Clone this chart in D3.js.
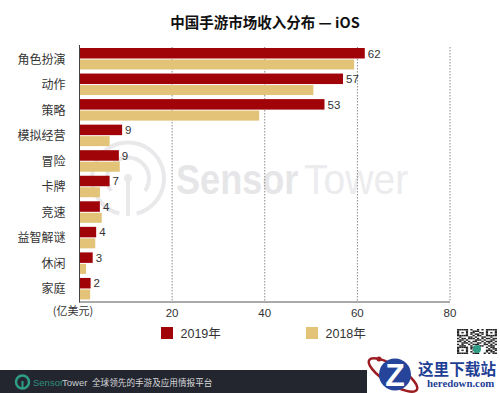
<!DOCTYPE html>
<html>
<head>
<meta charset="utf-8">
<script src="https://d3js.org/d3.v7.min.js"></script>
<style>
html, body { margin: 0; padding: 0; background: #fff; }
svg { display: block; }
text { font-family: "Liberation Sans", "Noto Sans CJK SC", sans-serif; }
.cat { font-family: "Noto Sans CJK SC", sans-serif; font-size: 12px; fill: #333; }
.val { font-size: 11.5px; fill: #333; }
</style>
</head>
<body>
<svg id="chart" width="500" height="393"></svg>
<script>
var categories = ['角色扮演', '动作', '策略', '模拟经营', '冒险', '卡牌', '竞速', '益智解谜', '休闲', '家庭'];
var values2019 = [61.6, 56.9, 52.9, 9.2, 8.5, 6.5, 4.4, 3.6, 2.85, 2.4];
var values2018 = [59.3, 50.5, 38.8, 6.5, 8.7, 4.4, 4.8, 3.4, 1.4, 2.3];
var valueLabels = ['62', '57', '53', '9', '9', '7', '4', '4', '3', '2'];
var xTicks = [20, 40, 60, 80];
var seriesNames = ['2019年', '2018年'];

// qr code bits, rough copy of the corner image
var qrRows = [
    '111110100101011111',
    '100010011100010001',
    '101010110011010101',
    '100010101101010001',
    '111110010110011111',
    '010001101001100100',
    '101101110101011011',
    '011010001110100110',
    '110101011001011101',
    '001110100110101010',
    '101001011100110101',
    '011100100011001110',
    '111110110000010110',
    '100010100000001011',
    '101010010000011101',
    '100010101000010110',
    '111110011100101011'
];

var colors = { y2019: '#a00408', y2018: '#e2c377' };

var svg = d3.select('#chart');
var x = d3.scaleLinear().domain([0, 80]).range([79.5, 450]);
var y = d3.scaleBand().domain(categories).range([47, 302.5]).padding(0);

// watermark goes under everything
var mark = svg.append('g');
var wmArc = d3.arc();
mark.append('path')
    .attr('transform', 'translate(128,178.5)')
    .attr('d', wmArc({ innerRadius: 34, outerRadius: 38, startAngle: -2.9, endAngle: 2.9 }))
    .attr('fill', '#e9e9eb');
mark.append('path')
    .attr('transform', 'translate(128,178.5)')
    .attr('d', wmArc({ innerRadius: 19, outerRadius: 23, startAngle: -2.2, endAngle: 2.2 }))
    .attr('fill', '#e9e9eb');
mark.append('circle').attr('cx', 128).attr('cy', 178).attr('r', 4).attr('fill', '#e9e9eb');
mark.append('rect').attr('x', 126).attr('y', 178).attr('width', 4).attr('height', 38).attr('fill', '#e9e9eb');
// squeezed sideways so both words fit like in the logo
mark.append('text').attr('transform', 'translate(176,194) scale(0.86,1)')
    .attr('font-size', 42).attr('font-weight', 'bold').attr('fill', '#e6e6e9')
    .text('Sensor');
mark.append('text').attr('transform', 'translate(304,194) scale(0.93,1)')
    .attr('font-size', 42).attr('fill', '#ececee')
    .text('Tower');

// title
svg.append('text').attr('x', 265).attr('y', 28)
    .attr('text-anchor', 'middle')
    .attr('font-size', 14.5).attr('font-weight', 'bold').attr('fill', '#111')
    .style('font-family', '"Noto Sans CJK SC", sans-serif')
    .text('中国手游市场收入分布 — iOS');

// grid
svg.selectAll('.grid').data(xTicks).join('line')
    .classed('grid', true)
    .attr('x1', d => x(d)).attr('x2', d => x(d))
    .attr('y1', 47).attr('y2', 302)
    .attr('stroke', '#8a8a8a').attr('stroke-width', 1)
    .attr('stroke-dasharray', '1.5,1.5');

// bars
var rows = svg.selectAll('.row').data(categories).join('g')
    .classed('row', true)
    .attr('transform', d => `translate(0,${y(d)})`);

rows.append('rect')
    .attr('x', x(0)).attr('y', 1)
    .attr('width', (d, i) => x(values2019[i]) - x(0))
    .attr('height', 10.5)
    .attr('fill', colors.y2019);

rows.append('rect')
    .attr('x', x(0)).attr('y', 12.5)
    .attr('width', (d, i) => x(values2018[i]) - x(0))
    .attr('height', 10)
    .attr('fill', colors.y2018);

rows.append('text')
    .classed('val', true)
    .attr('x', (d, i) => x(values2019[i]) + 3)
    .attr('y', 10.5)
    .text((d, i) => valueLabels[i]);

rows.append('text')
    .classed('cat', true)
    .attr('x', 65.5).attr('y', 16.5)
    .attr('text-anchor', 'end')
    .text(d => d);

// axes lines
svg.append('line').attr('x1', 79.5).attr('x2', 79.5).attr('y1', 45).attr('y2', 302.5)
    .attr('stroke', '#444').attr('stroke-width', 1);
svg.append('line').attr('x1', 79).attr('x2', 450).attr('y1', 302).attr('y2', 302)
    .attr('stroke', '#555').attr('stroke-width', 1);

svg.selectAll('.tick-label').data(xTicks).join('text')
    .classed('tick-label', true)
    .attr('x', d => x(d)).attr('y', 317)
    .attr('text-anchor', 'middle')
    .attr('font-size', 11.5).attr('fill', '#333')
    .text(d => d);

svg.append('text').attr('x', 73).attr('y', 315)
    .attr('text-anchor', 'middle')
    .attr('font-size', 11).attr('fill', '#333')
    .style('font-family', '"Noto Sans CJK SC", sans-serif')
    .text('(亿美元)');

// legend
var legendX = [161, 306];
var legend = svg.selectAll('.legend').data(seriesNames).join('g')
    .classed('legend', true)
    .attr('transform', (d, i) => `translate(${legendX[i]},327)`);
legend.append('rect').attr('width', 12).attr('height', 12)
    .attr('fill', (d, i) => i == 0 ? colors.y2019 : colors.y2018);
legend.append('text').attr('x', 19.5).attr('y', 11)
    .attr('font-size', 12.5).attr('fill', '#333')
    .text(d => d);

// footer band
svg.append('rect').attr('x', 0).attr('y', 370).attr('width', 367).attr('height', 23).attr('fill', '#23262f');
svg.append('circle').attr('cx', 22.5).attr('cy', 382).attr('r', 6.5)
    .attr('fill', 'none').attr('stroke', '#2f9c86').attr('stroke-width', 2.5);
svg.append('rect').attr('x', 21.5).attr('y', 381).attr('width', 2).attr('height', 8).attr('fill', '#2f9c86');
svg.append('text').attr('x', 33).attr('y', 386).attr('font-size', 9.5).attr('fill', '#2f8f7d').text('Sensor');
svg.append('text').attr('x', 62).attr('y', 386).attr('font-size', 9.5).attr('fill', '#c9ccd0').text('Tower');
svg.append('text').attr('x', 92).attr('y', 386).attr('font-size', 8.6).attr('fill', '#d6d7da')
    .style('font-family', '"Noto Sans CJK SC", sans-serif')
    .text('全球领先的手游及应用情报平台');

// qr
var qr = svg.append('g').attr('transform', 'translate(457,329)');
qrRows.forEach((row, r) => {
    row.split('').forEach((bit, c) => {
        if (bit == '1') {
            qr.append('rect').attr('x', c * 2.22).attr('y', r * 1.47)
                .attr('width', 2.22).attr('height', 1.47).attr('fill', '#222');
        }
    });
});
qr.append('circle').attr('cx', 20).attr('cy', 20).attr('r', 4).attr('fill', '#2f9c86');

// heredown logo
svg.append('rect').attr('x', 367).attr('y', 355).attr('width', 133).attr('height', 38).attr('fill', '#fff');
var logo = svg.append('g');
logo.append('ellipse').attr('cx', 393).attr('cy', 375).attr('rx', 28).attr('ry', 9)
    .attr('transform', 'rotate(32 393 375)')
    .attr('fill', 'none').attr('stroke', '#9c1c22').attr('stroke-width', 2.5);
logo.append('circle').attr('cx', 379).attr('cy', 359).attr('r', 2.5).attr('fill', '#9c1c22');
logo.append('circle').attr('cx', 395).attr('cy', 374.5).attr('r', 16).attr('fill', '#27449b');
logo.append('text').attr('x', 395).attr('y', 386).attr('text-anchor', 'middle')
    .attr('font-size', 32).attr('font-weight', 'bold').attr('fill', '#fff').text('Z');
logo.append('text').attr('x', 418).attr('y', 374.5)
    .attr('font-size', 15.6).attr('font-weight', 'bold').attr('fill', '#1f3f95')
    .style('font-family', '"Noto Sans CJK SC", serif')
    .text('这里下载站');
logo.append('text').attr('x', 427).attr('y', 387)
    .attr('font-size', 10.8).attr('font-weight', 'bold').attr('fill', '#1f3f95')
    .style('font-family', '"Liberation Serif", serif')
    .text('heredown.com');
</script>
</body>
</html>
